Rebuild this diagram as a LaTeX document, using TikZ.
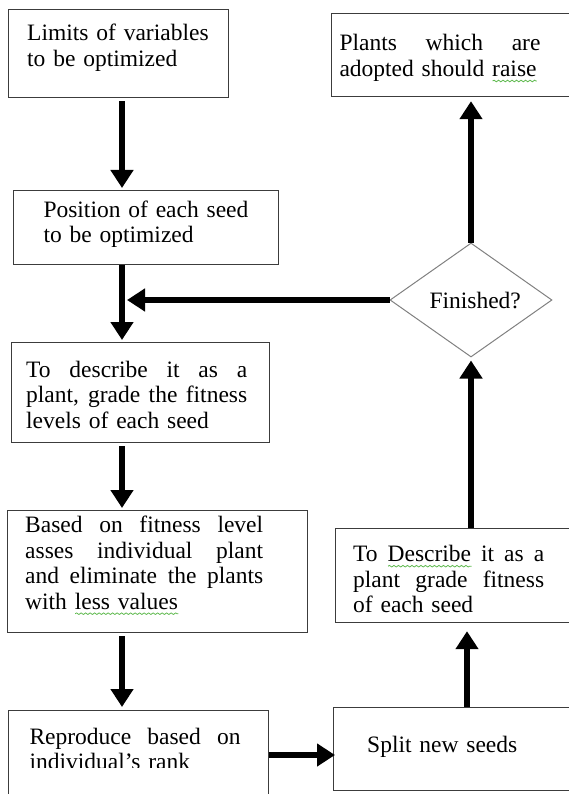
\documentclass[tikz,border=0pt]{standalone}
\usepackage{fontspec}
\setmainfont{Liberation Serif}
\usetikzlibrary{arrows.meta,shapes.geometric,decorations.pathmorphing,calc}
\definecolor{edgegray}{RGB}{60,60,60}
\definecolor{diagray}{RGB}{128,128,128}
\definecolor{spellgreen}{RGB}{96,186,80}
\setlength{\parindent}{0pt}
\newsavebox{\spellbox}
\newcommand{\spellmark}[1]{\sbox{\spellbox}{#1}\rlap{\tikz[baseline=0pt]\draw[spellgreen,line width=0.8pt,decorate,decoration={snake,amplitude=0.8pt,segment length=4.5pt}] (0pt,-4.5pt) -- (\wd\spellbox,-4.5pt);}#1}
\newcommand{\fullline}[1]{\makebox[\hsize][s]{\spaceskip=0.25em plus 1fil\relax #1}}

\begin{document}
\begin{tikzpicture}[x=1pt,y=-1pt,font=\fontsize{23.5}{25.5}\selectfont,
  box/.style={draw=edgegray,line width=1.2pt,anchor=north west,inner sep=0pt},
  txt/.style={anchor=base west,inner sep=0pt},
  flow/.style={line width=6.5pt,-{Triangle[width=22pt,length=18pt]}}]
\useasboundingbox (0,0) rectangle (569,794);
\clip (0,0) rectangle (569,794);

% ===== LEFT COLUMN =====
\node[box,minimum width=220pt,minimum height=88pt] (limits) at (8,9) {};
\node[txt,text width=205pt] (limits-t) at (27,40.7) {Limits of variables\\to be optimized};

\node[box,minimum width=265pt,minimum height=74pt] (position) at (13,190) {};
\node[txt,text width=225pt] (position-t) at (43.3,217.3) {Position of each seed\\to be optimized};

\node[box,minimum width=258pt,minimum height=100pt] (fitness) at (11,342) {};
\node[txt,text width=221pt] (fitness-t) at (26,377.3) {\fullline{To describe it as a}\\\fullline{plant, grade the fitness}\\levels of each seed};

\node[box,minimum width=300pt,minimum height=122pt] (assess) at (7,510) {};
\node[txt,text width=238pt] (assess-t) at (25,532.7) {\fullline{Based on fitness level}\\\fullline{asses individual plant}\\\fullline{and eliminate the plants}\\with \spellmark{less values}};

\node[box,minimum width=260pt,minimum height=95pt] (reproduce) at (8,710) {};
\begin{scope}
  \clip (8,710) rectangle (268,767.5);
  \node[txt,text width=211pt] (reproduce-t) at (29.3,744) {\fullline{Reproduce based on}\\individual's rank};
\end{scope}

% ===== RIGHT COLUMN =====
\node[box,minimum width=245pt,minimum height=83pt] (adopted) at (331,13) {};
\node[txt,text width=215pt] (adopted-t) at (339.3,51) {\makebox[201pt][s]{\spaceskip=0.25em plus 1fil\relax Plants which are}\\adopted should \spellmark{raise}};

\node[diamond,draw=diagray,line width=1pt,minimum width=162pt,minimum height=114pt,inner sep=0pt] (finished) at (471,300) {};
\node[txt] (finished-t) at (429.3,308.3) {Finished?};

\node[box,minimum width=245pt,minimum height=94pt] (newfitness) at (335,528) {};
\node[txt,text width=191pt] (newfitness-t) at (353,561.7) {\fullline{To \spellmark{Describe} it as a}\\\fullline{plant grade fitness}\\of each seed};

\node[box,minimum width=245pt,minimum height=83pt] (split) at (333,707) {};
\node[txt,text width=170pt] (split-t) at (367,752.7) {Split new seeds};

% ===== ARROWS =====
\coordinate (lcol) at (122,0);
\coordinate (scol) at (467,0);
\coordinate (lowrow) at (0,755);

\draw[flow,shorten <=3pt,shorten >=2pt] (limits.south -| lcol) -- (position.north -| lcol);
\draw[flow,shorten >=2pt] (position.south -| lcol) -- (fitness.north -| lcol);
\draw[flow,shorten >=5pt] (finished.west) -- (lcol |- finished.west);
\draw[flow,shorten <=3pt,shorten >=2pt] (fitness.south -| lcol) -- (assess.north -| lcol);
\draw[flow,shorten <=3pt,shorten >=3pt] (assess.south -| lcol) -- (reproduce.north -| lcol);
\draw[flow,shorten >=-2pt] (reproduce.east |- lowrow) -- (split.west |- lowrow);
\draw[flow,shorten >=8pt] (split.north -| scol) -- (newfitness.south -| scol);
\draw[flow,shorten >=3pt] (newfitness.north -| finished.south) -- (finished.south);
\draw[flow,shorten >=4pt] (finished.north) -- (adopted.south -| finished.north);

\end{tikzpicture}
\end{document}
